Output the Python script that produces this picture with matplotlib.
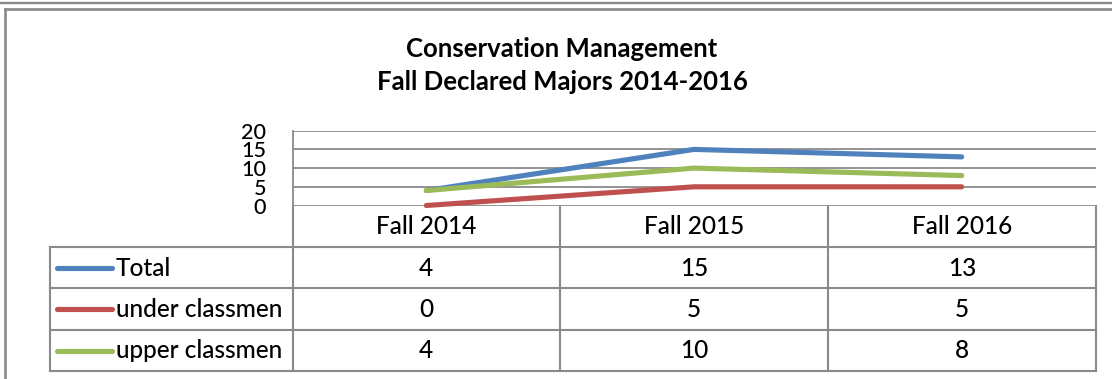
import matplotlib.pyplot as plt
from matplotlib.lines import Line2D

# datos de matrícula por semestre
semestres = ['Fall 2014', 'Fall 2015', 'Fall 2016']
series = ['Total', 'under classmen', 'upper classmen']
total = [4, 15, 13]
under_classmen = [0, 5, 5]
upper_classmen = [4, 10, 8]
valores = [total, under_classmen, upper_classmen]
colores = ['#4F81BD', '#C0504D', '#9BBB59']
titulo = ['Conservation Management', 'Fall Declared Majors 2014-2016']

W, H = 1112, 379
gris = '#8a8a8a'
fuente = 'Lato'
tam = 17.6
peso = 'medium'

fig = plt.figure(figsize=(W / 100, H / 100), dpi=100)
fig.patch.set_facecolor('white')

# capa de fondo en píxeles para marco, tabla y textos
capa = fig.add_axes([0, 0, 1, 1])
capa.set_xlim(0, W)
capa.set_ylim(H, 0)
capa.axis('off')

# marcos
capa.plot([0, W], [2.5, 2.5], color=gris, lw=1.7)
capa.plot([5, W], [8.5, 8.5], color=gris, lw=1.9)
capa.plot([5, 5], [8.5, H], color=gris, lw=1.9)

# título
capa.text(562, 57, titulo[0], ha='center', va='baseline', fontsize=18.5,
          fontweight='bold', family=fuente)
capa.text(562, 90, titulo[1], ha='center', va='baseline', fontsize=18.5,
          fontweight='bold', family=fuente)

# área del gráfico
x0, x1 = 292.5, 1095.5
y_top, y_cero = 130.7, 205.5
ax = fig.add_axes([x0 / W, (H - y_cero) / H, (x1 - x0) / W, (y_cero - y_top) / H])
ax.set_xlim(0, len(semestres))
ax.set_ylim(0, 20)
ax.set_yticks([0, 5, 10, 15, 20])
ax.set_xticks([])
ax.grid(axis='y', color=gris, lw=1.3)
ax.set_axisbelow(True)
for lado in ['top', 'right', 'bottom']:
    ax.spines[lado].set_visible(False)
ax.spines['left'].set_color(gris)
ax.spines['left'].set_linewidth(1.3)
ax.tick_params(axis='y', length=0, pad=19, labelsize=15.5)
for t in ax.get_yticklabels():
    t.set_family(fuente)
    t.set_fontweight(peso)

xs = [i + 0.5 for i in range(len(semestres))]
for vals, c in zip(valores, colores):
    ax.plot(xs, vals, color=c, lw=3.7, solid_capstyle='round', clip_on=False, zorder=3)

# tabla de datos
filas = [y_cero, 246.7, 288.3, 330.0, 371.0]
cols = [x0, 560, 828, x1]
x_leyenda = 50
for y in filas[1:]:
    capa.plot([x_leyenda, x1], [y, y], color=gris, lw=1.5)
for x in cols:
    capa.plot([x, x], [y_cero, filas[-1]], color=gris, lw=1.5)
capa.plot([x_leyenda, x_leyenda], [filas[1], filas[-1]], color=gris, lw=1.5)

def centro(a, b):
    return (a + b) / 2

for j, s in enumerate(semestres):
    capa.text(centro(cols[j], cols[j + 1]), centro(filas[0], filas[1]) + 8, s,
              ha='center', va='baseline', fontsize=tam, family=fuente, fontweight=peso)

for i, (nombre, vals, c) in enumerate(zip(series, valores, colores)):
    yc = centro(filas[i + 1], filas[i + 2])
    capa.add_line(Line2D([57, 112], [yc, yc], color=c, lw=3.7, solid_capstyle='round'))
    capa.text(116, yc + 8, nombre, ha='left', va='baseline', fontsize=tam,
              family=fuente, fontweight=peso)
    for j, v in enumerate(vals):
        capa.text(centro(cols[j], cols[j + 1]), yc + 8, str(v),
                  ha='center', va='baseline', fontsize=tam, family=fuente, fontweight=peso)

plt.savefig('out.png', dpi=100)
